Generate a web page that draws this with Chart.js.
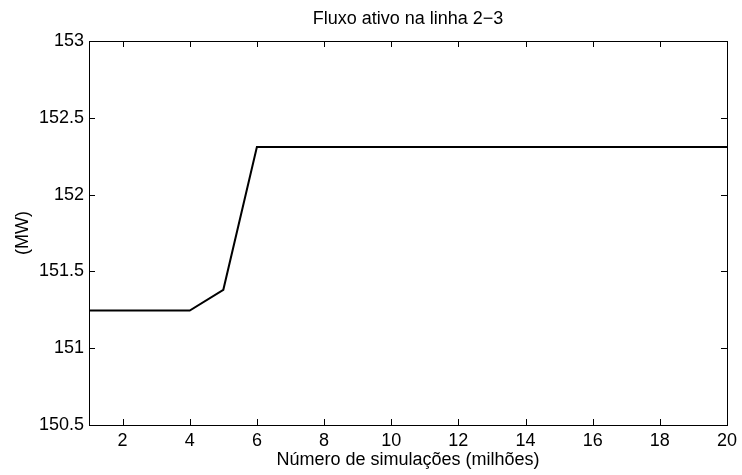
<!DOCTYPE html>
<html>
<head>
<meta charset="utf-8">
<script src="https://cdn.jsdelivr.net/npm/chart.js@4"></script>
<style>
    html, body { margin: 0; padding: 0; background: #fff; }
    #wrap { width: 742px; height: 475px; }
</style>
</head>
<body>
<div id="wrap"><canvas id="flow-chart" width="742" height="475"></canvas></div>
<script>
// Data
const simulations = [1, 2, 3, 4, 5, 6, 7, 8, 9, 10, 11, 12, 13, 14, 15, 16, 17, 18, 19, 20];
const flowMW = [151.245, 151.245, 151.245, 151.245, 151.38, 152.31, 152.31, 152.31, 152.31, 152.31,
                152.31, 152.31, 152.31, 152.31, 152.31, 152.31, 152.31, 152.31, 152.31, 152.31];
const xTicks = [2, 4, 6, 8, 10, 12, 14, 16, 18, 20];
const yTicks = [150.5, 151, 151.5, 152, 152.5, 153];

const FONT = 'Liberation Sans, Arial, Helvetica, sans-serif';
const SIZE = 18;

// Box around plot area plus short inward tick marks on all sides (MATLAB style)
const boxTicks = {
    id: 'boxTicks',
    afterDraw(chart) {
        const { ctx, chartArea: a, scales } = chart;
        const len = 6;
        ctx.save();
        ctx.strokeStyle = '#000';
        ctx.lineWidth = 1;
        ctx.strokeRect(Math.round(a.left) + 0.5, Math.round(a.top) + 0.5,
            Math.round(a.right - a.left), Math.round(a.bottom - a.top));
        ctx.beginPath();
        xTicks.forEach(v => {
            const px = Math.round(scales.x.getPixelForValue(v)) + 0.5;
            ctx.moveTo(px, a.bottom); ctx.lineTo(px, a.bottom - len);
            ctx.moveTo(px, a.top); ctx.lineTo(px, a.top + len);
        });
        yTicks.forEach(v => {
            const py = Math.round(scales.y.getPixelForValue(v)) + 0.5;
            ctx.moveTo(a.left, py); ctx.lineTo(a.left + len, py);
            ctx.moveTo(a.right, py); ctx.lineTo(a.right - len, py);
        });
        ctx.stroke();
        ctx.restore();
    }
};

new Chart(document.getElementById('flow-chart'), {
    type: 'line',
    data: {
        datasets: [{
            data: simulations.map((x, i) => ({ x: x, y: flowMW[i] })),
            borderColor: '#000',
            borderWidth: 2,
            pointRadius: 0,
            tension: 0,
            fill: false
        }]
    },
    options: {
        responsive: false,
        animation: false,
        layout: { padding: { left: 0, right: 13, top: 0, bottom: 0 } },
        plugins: {
            legend: { display: false },
            tooltip: { enabled: false }
        },
        scales: {
            // top axis only carries the title so it centres over the plot area
            top: {
                type: 'linear',
                position: 'top',
                min: 1,
                max: 20,
                afterFit: s => { s.height = 41; },
                grid: { display: false, drawTicks: false },
                border: { display: false },
                ticks: { display: false },
                title: {
                    display: true,
                    text: 'Fluxo ativo na linha 2\u22123',
                    color: '#000',
                    font: { family: FONT, size: SIZE },
                    padding: { top: 8, bottom: 0 }
                }
            },
            x: {
                type: 'linear',
                min: 1,
                max: 20,
                afterBuildTicks: s => { s.ticks = xTicks.map(v => ({ value: v })); },
                afterFit: s => { s.height = 50; },
                grid: { display: false, drawTicks: false },
                border: { display: false },
                ticks: {
                    color: '#000',
                    font: { family: FONT, size: SIZE },
                    padding: 5,
                    maxRotation: 0,
                    callback: v => String(v)
                },
                title: {
                    display: true,
                    text: 'Número de simulações (milhões)',
                    color: '#000',
                    font: { family: FONT, size: SIZE },
                    padding: { top: 0, bottom: 4 }
                }
            },
            y: {
                min: 150.5,
                max: 153,
                afterBuildTicks: s => { s.ticks = yTicks.map(v => ({ value: v })); },
                afterFit: s => { s.width = 89; },
                grid: { display: false, drawTicks: false },
                border: { display: false },
                ticks: {
                    color: '#000',
                    font: { family: FONT, size: SIZE },
                    padding: 5,
                    callback: v => String(v)
                },
                title: {
                    display: true,
                    text: '(MW)',
                    color: '#000',
                    font: { family: FONT, size: SIZE },
                    padding: { top: 12, bottom: 0 }
                }
            }
        }
    },
    plugins: [boxTicks]
});
</script>
</body>
</html>
